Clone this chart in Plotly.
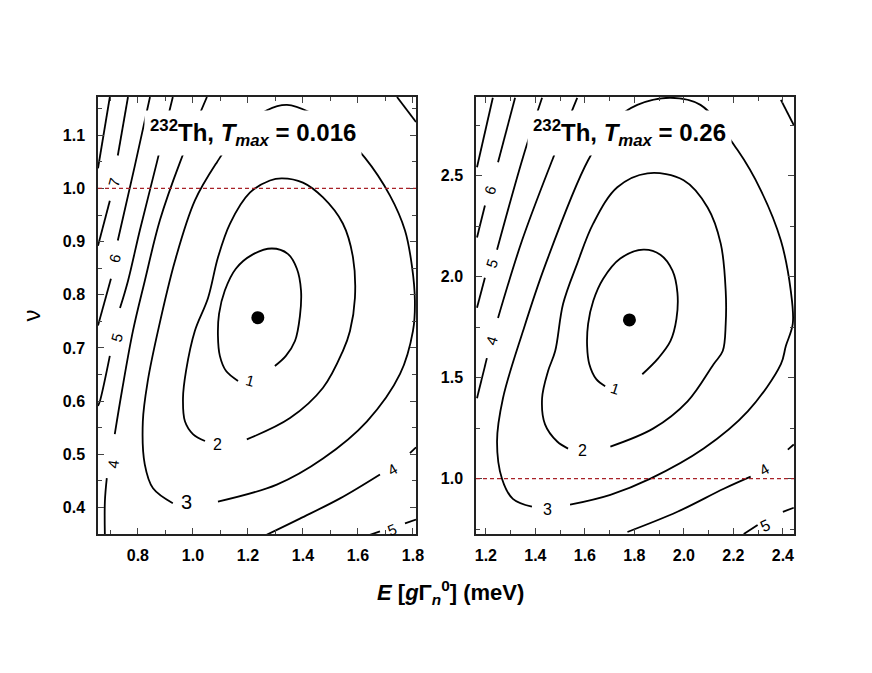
import plotly.graph_objects as go

# ---------------- left panel, T_max = 0.016 ----------------
# contour lines (gaps are where the level labels sit)
left_c1_x = [1.164, 1.120, 1.098, 1.091, 1.095, 1.116, 1.156, 1.215, 1.287, 1.345, 1.378, 1.393, 1.389, 1.371, 1.338, 1.298]
left_c1_y = [0.638, 0.657, 0.685, 0.723, 0.764, 0.808, 0.849, 0.875, 0.887, 0.877, 0.849, 0.808, 0.760, 0.713, 0.685, 0.666]

left_c2_x = [1.044, 1.000, 0.971, 0.964, 0.975, 1.007, 1.055, 1.091, 1.135, 1.207, 1.280, 1.324, 1.400,
             1.473, 1.545, 1.582, 1.589, 1.571, 1.545, 1.473, 1.353, 1.196]
left_c2_y = [0.525, 0.538, 0.562, 0.606, 0.657, 0.732, 0.794, 0.870, 0.934, 0.992, 1.015, 1.019, 1.011,
             0.983, 0.934, 0.870, 0.794, 0.732, 0.694, 0.625, 0.568, 0.528]

left_c3_x = [0.927, 0.855, 0.825, 0.818, 0.836, 0.873, 0.935, 1.007, 1.087, 1.171, 1.269, 1.342, 1.425,
             1.535, 1.625, 1.716, 1.771, 1.796, 1.807, 1.800, 1.753, 1.633, 1.473, 1.305, 1.091]
left_c3_y = [0.408, 0.436, 0.481, 0.562, 0.638, 0.732, 0.864, 0.977, 1.049, 1.109, 1.147, 1.157, 1.143,
             1.106, 1.058, 0.987, 0.921, 0.855, 0.789, 0.732, 0.651, 0.562, 0.492, 0.443, 0.411]

left_c4a_x = [1.051, 0.953, 0.880, 0.825, 0.782, 0.742, 0.716]
left_c4a_y = [1.172, 1.049, 0.940, 0.826, 0.732, 0.619, 0.538]
left_c4b_x = [0.687, 0.680, 0.680]
left_c4b_y = [0.455, 0.411, 0.347]
left_c4c_x = [1.262, 1.389, 1.535, 1.680]
left_c4c_y = [0.347, 0.379, 0.417, 0.462]
left_c4d_x = [1.789, 1.811]
left_c4d_y = [0.502, 0.513]
left_c4e_x = [1.742, 1.811]
left_c4e_y = [1.172, 1.125]

left_c5a_x = [0.927, 0.869, 0.807, 0.764, 0.735]
left_c5a_y = [1.172, 1.049, 0.921, 0.826, 0.775]
left_c5b_x = [0.698, 0.662, 0.655]
left_c5b_y = [0.685, 0.600, 0.591]
left_c5c_x = [1.636, 1.680]
left_c5c_y = [0.347, 0.355]
left_c5d_x = [1.771, 1.811]
left_c5d_y = [0.370, 0.377]

left_c6a_x = [0.844, 0.789, 0.727]
left_c6a_y = [1.172, 1.043, 0.902]
left_c6b_x = [0.702, 0.655]
left_c6b_y = [0.830, 0.742]

left_c7a_x = [0.764, 0.727]
left_c7a_y = [1.172, 1.062]
left_c7b_x = [0.698, 0.655]
left_c7b_y = [0.977, 0.892]

left_c8_x = [0.698, 0.655]
left_c8_y = [1.172, 1.038]

left_label_text = ["1", "2", "3", "4", "4", "5", "5", "6", "7"]
left_label_x = [1.207, 1.091, 0.978, 0.709, 1.724, 0.724, 1.724, 0.716, 0.713]
left_label_y = [0.638, 0.519, 0.411, 0.481, 0.472, 0.719, 0.358, 0.868, 1.011]

left_best_x = [1.236]
left_best_y = [0.757]

# ---------------- right panel, T_max = 0.26 ----------------
right_c1_x = [1.682, 1.646, 1.618, 1.609, 1.613, 1.634, 1.674, 1.743, 1.836, 1.905, 1.954, 1.974, 1.970, 1.946, 1.897, 1.832]
right_c1_y = [1.458, 1.493, 1.567, 1.657, 1.766, 1.881, 1.990, 2.090, 2.134, 2.109, 2.030, 1.920, 1.791, 1.682, 1.597, 1.517]

right_c2_x = [1.532, 1.488, 1.439, 1.427, 1.451, 1.480, 1.512, 1.569, 1.634, 1.731, 1.853, 1.999, 2.096,
              2.149, 2.169, 2.169, 2.157, 2.120, 2.015, 1.877, 1.703]
right_c2_y = [1.149, 1.184, 1.269, 1.398, 1.532, 1.632, 1.866, 2.065, 2.264, 2.443, 2.512, 2.478, 2.343,
              2.164, 1.930, 1.766, 1.632, 1.567, 1.383, 1.249, 1.159]

right_c3_x = [1.386, 1.309, 1.265, 1.245, 1.269, 1.350, 1.439, 1.613, 1.723, 1.812, 1.946, 2.067, 2.217,
              2.311, 2.392, 2.432, 2.440, 2.412, 2.392, 2.258, 2.080, 1.865, 1.703, 1.540]
right_c3_y = [0.861, 0.900, 1.000, 1.184, 1.398, 1.731, 2.055, 2.577, 2.776, 2.851, 2.886, 2.851, 2.627,
              2.428, 2.179, 1.930, 1.766, 1.657, 1.567, 1.333, 1.149, 1.000, 0.920, 0.871]

right_c4a_x = [1.569, 1.468, 1.346, 1.249]
right_c4a_y = [2.886, 2.577, 2.179, 1.796]
right_c4b_x = [1.204, 1.164]
right_c4b_y = [1.597, 1.398]
right_c4c_x = [1.772, 1.974, 2.161, 2.270]
right_c4c_y = [0.736, 0.836, 0.950, 1.010]
right_c4d_x = [2.420, 2.444]
right_c4d_y = [1.144, 1.169]
right_c4e_x = [2.392, 2.444]
right_c4e_y = [2.876, 2.751]

right_c5a_x = [1.427, 1.350, 1.245]
right_c5a_y = [2.886, 2.592, 2.134]
right_c5b_x = [1.196, 1.164]
right_c5b_y = [1.995, 1.846]
right_c5c_x = [2.242, 2.298]
right_c5c_y = [0.726, 0.771]
right_c5d_x = [2.400, 2.444]
right_c5d_y = [0.836, 0.856]

right_c6a_x = [1.318, 1.249]
right_c6a_y = [2.886, 2.567]
right_c6b_x = [1.196, 1.164]
right_c6b_y = [2.353, 2.194]

right_c7_x = [1.228, 1.164]
right_c7_y = [2.886, 2.542]

right_label_text = ["1", "2", "3", "4", "4", "5", "5", "6"]
right_label_x = [1.723, 1.589, 1.447, 1.224, 2.323, 1.224, 2.331, 1.216]
right_label_y = [1.448, 1.139, 0.846, 1.682, 1.045, 2.065, 0.766, 2.428]

right_best_x = [1.780]
right_best_y = [1.786]

NU_REF = 1.0

left_title = "<b><sup>232</sup>Th, <i>T<sub>max</sub></i> = 0.016</b>"
right_title = "<b><sup>232</sup>Th, <i>T<sub>max</sub></i> = 0.26</b>"

# label rotations (style)
left_label_angle = [15, 0, 0, -82, -30, -75, -22, -75, -75]
right_label_angle = [18, 0, 0, -72, -30, -72, -25, -72]
left_label_size = [15, 16, 20, 15, 15, 15, 15, 15, 15]
right_label_size = [15, 16, 16, 15, 15, 15, 16, 15]

FONT = "Liberation Sans, Arial, Helvetica, sans-serif"
LINE = dict(color="black", width=1.8, shape="spline", smoothing=1.0)

left_lines = [
    (left_c1_x, left_c1_y), (left_c2_x, left_c2_y), (left_c3_x, left_c3_y),
    (left_c4a_x, left_c4a_y), (left_c4b_x, left_c4b_y), (left_c4c_x, left_c4c_y),
    (left_c4d_x, left_c4d_y), (left_c4e_x, left_c4e_y),
    (left_c5a_x, left_c5a_y), (left_c5b_x, left_c5b_y), (left_c5c_x, left_c5c_y), (left_c5d_x, left_c5d_y),
    (left_c6a_x, left_c6a_y), (left_c6b_x, left_c6b_y),
    (left_c7a_x, left_c7a_y), (left_c7b_x, left_c7b_y),
    (left_c8_x, left_c8_y),
]
right_lines = [
    (right_c1_x, right_c1_y), (right_c2_x, right_c2_y), (right_c3_x, right_c3_y),
    (right_c4a_x, right_c4a_y), (right_c4b_x, right_c4b_y), (right_c4c_x, right_c4c_y),
    (right_c4d_x, right_c4d_y), (right_c4e_x, right_c4e_y),
    (right_c5a_x, right_c5a_y), (right_c5b_x, right_c5b_y), (right_c5c_x, right_c5c_y), (right_c5d_x, right_c5d_y),
    (right_c6a_x, right_c6a_y), (right_c6b_x, right_c6b_y),
    (right_c7_x, right_c7_y),
]

fig = go.Figure()

for xs, ys in left_lines:
    fig.add_trace(go.Scatter(x=xs, y=ys, mode="lines", line=LINE,
                             xaxis="x", yaxis="y", showlegend=False, hoverinfo="skip"))
for xs, ys in right_lines:
    fig.add_trace(go.Scatter(x=xs, y=ys, mode="lines", line=LINE,
                             xaxis="x2", yaxis="y2", showlegend=False, hoverinfo="skip"))

fig.add_trace(go.Scatter(x=left_best_x, y=left_best_y, mode="markers",
                         marker=dict(color="black", size=13), xaxis="x", yaxis="y", showlegend=False))
fig.add_trace(go.Scatter(x=right_best_x, y=right_best_y, mode="markers",
                         marker=dict(color="black", size=13), xaxis="x2", yaxis="y2", showlegend=False))

# dashed reference line nu = 1
for xr, yr in [("x domain", "y"), ("x2 domain", "y2")]:
    fig.add_shape(type="line", xref=xr, yref=yr, x0=0, x1=1, y0=NU_REF, y1=NU_REF,
                  line=dict(color="#a82228", width=1.3, dash="4px,3px"))

# contour level labels
for t, x, y, a, s in zip(left_label_text, left_label_x, left_label_y, left_label_angle, left_label_size):
    fig.add_annotation(text=t, x=x, y=y, xref="x", yref="y", showarrow=False, textangle=a,
                       font=dict(family=FONT, size=s, color="black"))
for t, x, y, a, s in zip(right_label_text, right_label_x, right_label_y, right_label_angle, right_label_size):
    fig.add_annotation(text=t, x=x, y=y, xref="x2", yref="y2", showarrow=False, textangle=a,
                       font=dict(family=FONT, size=s, color="black"))

# panel titles on white boxes (they mask the contour lines behind them)
fig.add_annotation(text=left_title, xref="x domain", yref="y domain", x=0.487, y=0.918,
                   xanchor="center", yanchor="middle", showarrow=False, bgcolor="white", borderpad=5,
                   font=dict(family=FONT, size=24, color="black"))
fig.add_annotation(text=right_title, xref="x2 domain", yref="y2 domain", x=0.484, y=0.918,
                   xanchor="center", yanchor="middle", showarrow=False, bgcolor="white", borderpad=5,
                   font=dict(family=FONT, size=24, color="black"))

# axis titles
fig.add_annotation(text="ν", xref="paper", yref="paper", x=-0.095, y=0.50, textangle=-90,
                   xanchor="center", yanchor="middle",
                   showarrow=False, font=dict(family=FONT, size=24, color="black"))
fig.add_annotation(text="<b><i>E</i> [<i>g</i>Γ<sub><i>n</i></sub><sup>0</sup>] (meV)</b>",
                   xref="paper", yref="paper", x=0.506, y=-0.133, showarrow=False,
                   xanchor="center", yanchor="middle",
                   font=dict(family=FONT, size=22, color="black"))

axis_common = dict(
    showline=True, linecolor="#222", linewidth=1.5, mirror="allticks",
    ticks="inside", ticklen=6, tickwidth=1, tickcolor="#444",
    showgrid=False, zeroline=False,
    tickfont=dict(family=FONT, size=16, color="black", weight="bold"),
)

# the page adds an 8 px body margin, so the plot margins are trimmed by that much
fig.update_layout(
    width=872, height=673,
    paper_bgcolor="white", plot_bgcolor="white",
    margin=dict(l=90, r=86, t=89, b=147),
    xaxis=dict(domain=[0, 0.4569], range=[0.655, 1.811], dtick=0.2, tick0=0.8, tickformat=".1f",
               minor=dict(dtick=0.1, ticklen=4, ticks="inside", tickcolor="#444"),
               ticklabelstandoff=6, anchor="y", **axis_common),
    yaxis=dict(domain=[0, 1], range=[0.35, 1.172], dtick=0.1, tick0=0.4, tickformat=".1f",
               minor=dict(dtick=0.05, ticklen=4, ticks="inside", tickcolor="#444"),
               ticklabelstandoff=8, anchor="x", **axis_common),
    xaxis2=dict(domain=[0.5431, 1], range=[1.16, 2.445], dtick=0.2, tick0=1.2, tickformat=".1f",
                minor=dict(dtick=0.1, ticklen=4, ticks="inside", tickcolor="#444"),
                ticklabelstandoff=6, anchor="y2", **axis_common),
    yaxis2=dict(domain=[0, 1], range=[0.726, 2.89], dtick=0.5, tick0=1.0, tickformat=".1f",
                minor=dict(dtick=0.25, ticklen=4, ticks="inside", tickcolor="#444"),
                ticklabelstandoff=8, anchor="x2", **axis_common),
)

fig.write_html("out.html")
